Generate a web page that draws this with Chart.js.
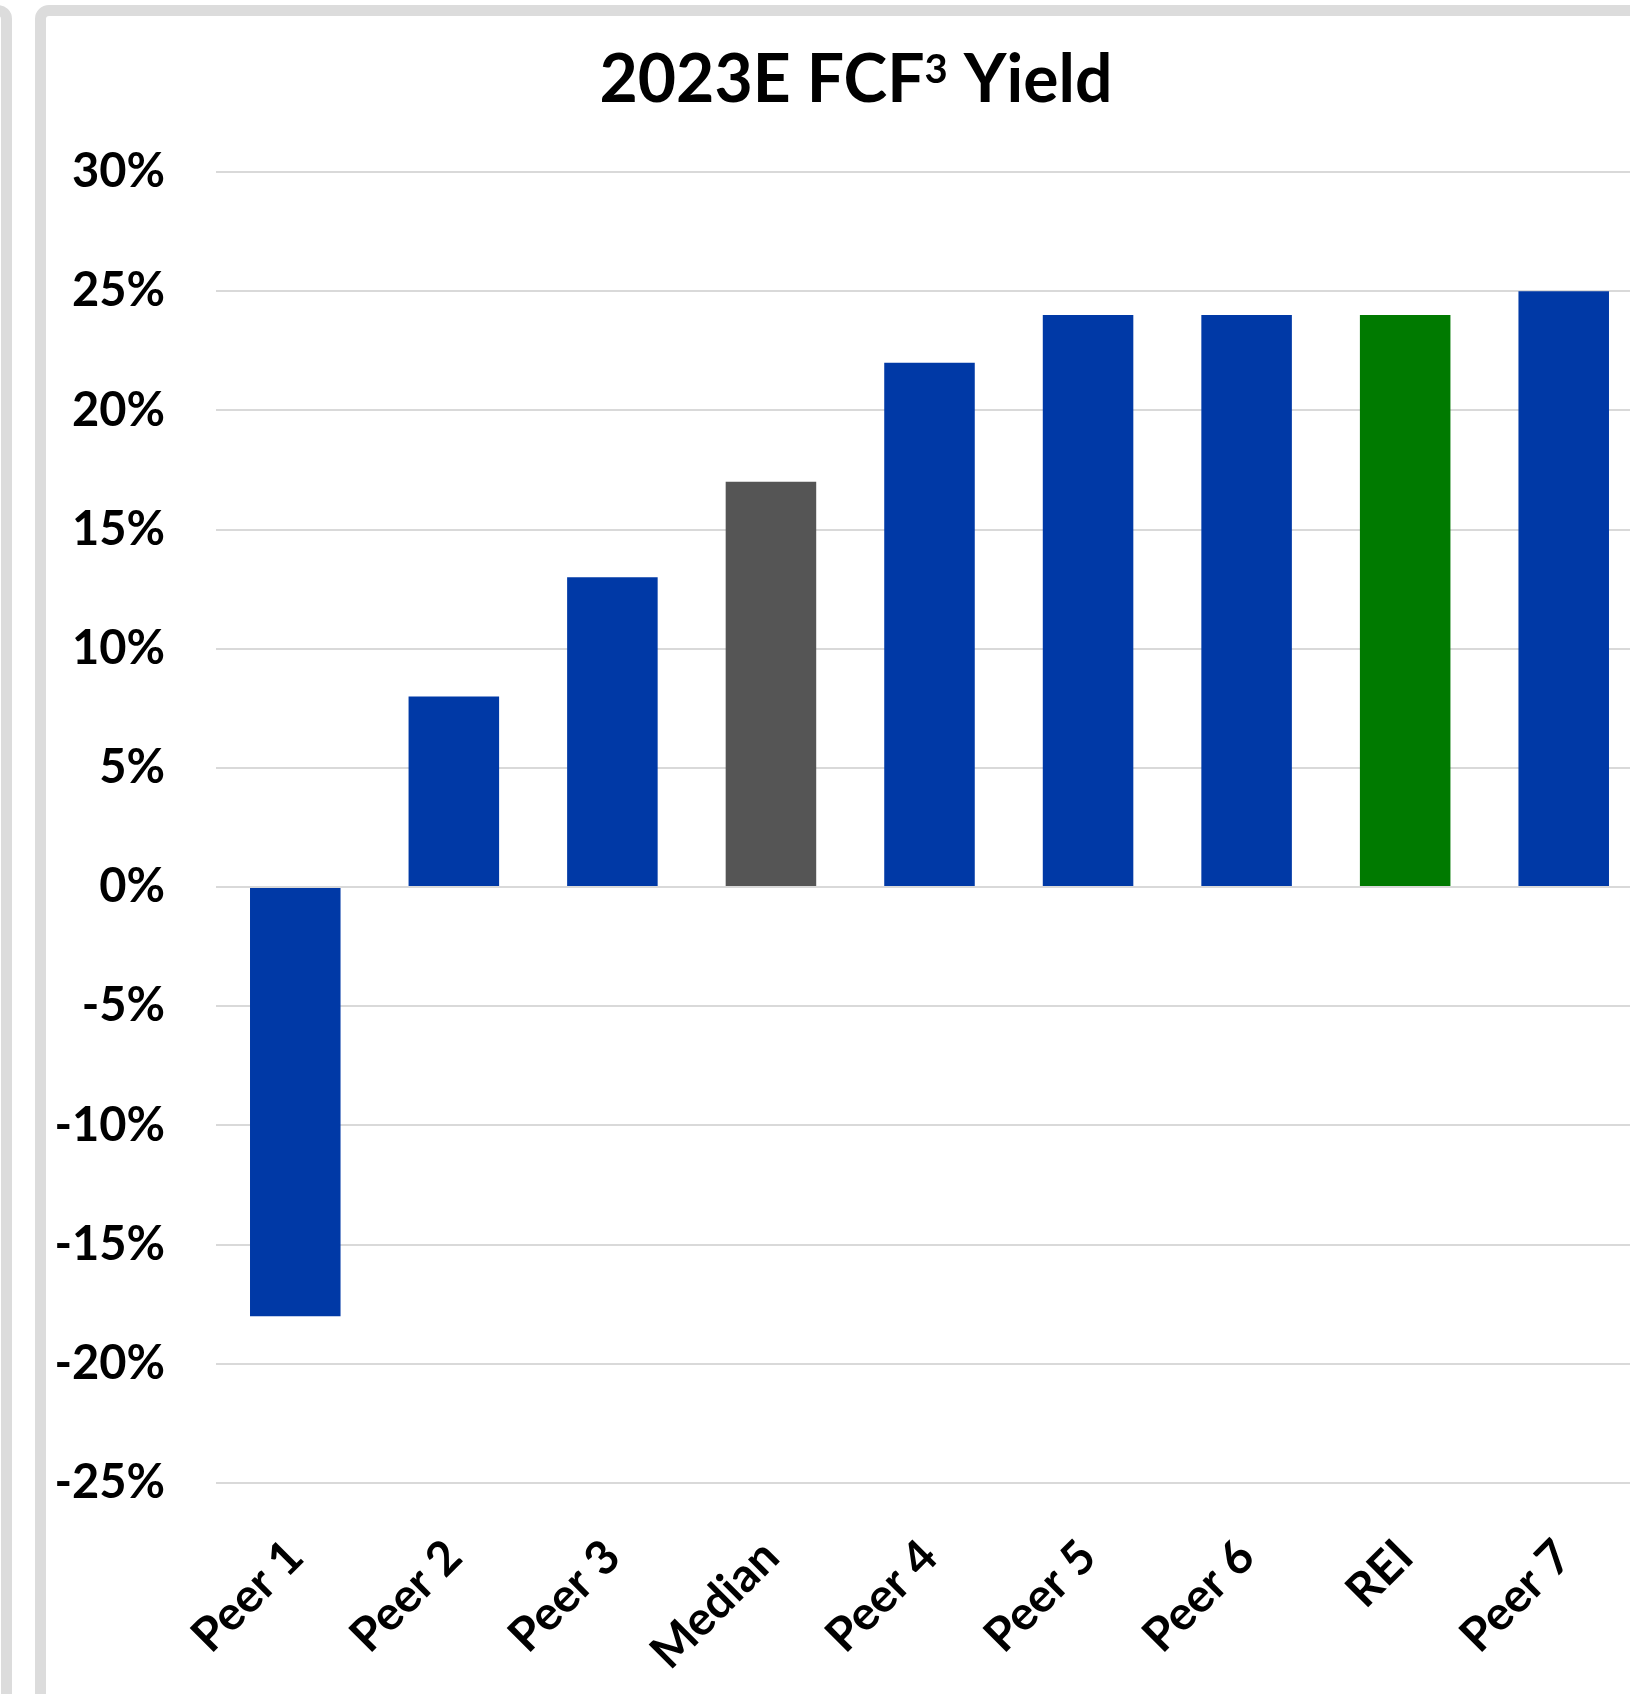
<!DOCTYPE html>
<html>
<head>
<meta charset="utf-8">
<script src="https://cdn.jsdelivr.net/npm/chart.js@4.4.0/dist/chart.umd.min.js"></script>
<style>
  html, body { margin: 0; padding: 0; background: #fff; }
  body { width: 1630px; height: 1694px; overflow: hidden; position: relative; }
  .frame { position: absolute; box-sizing: border-box; border: 11px solid #dcdcdc; border-radius: 14px; background: #fff; }
  #prev { left: -60px; top: 5px; width: 72px; height: 1800px; }
  #card { left: 35px; top: 5px; width: 1700px; height: 1800px; }
  #surat { position: absolute; left: 46px; top: 16px; }
</style>
</head>
<body>
<div class="frame" id="prev"></div>
<div class="frame" id="card"></div>
<canvas id="surat" width="1620" height="1678"></canvas>
<script>
// categories and values (in %)
const categories = ["Peer 1", "Peer 2", "Peer 3", "Median", "Peer 4", "Peer 5", "Peer 6", "REI", "Peer 7"];
const yieldValues = [-18, 8, 13, 17, 22, 24, 24, 24, 25];
const yTicks = [-25, -20, -15, -10, -5, 0, 5, 10, 15, 20, 25, 30];

const font = "Lato";

// title with a real superscript "3"
const titlePlugin = {
    id: "supTitle",
    afterDraw(chart) {
        const ctx = chart.ctx;
        const parts = [
            { text: "2023E FCF", size: 66, rise: 0 },
            { text: "3", size: 40, rise: 19 },
            { text: " Yield", size: 66, rise: 0 },
        ];
        ctx.save();
        ctx.fillStyle = "#000";
        ctx.textBaseline = "alphabetic";
        ctx.textAlign = "left";
        let total = 0;
        parts.forEach((p) => {
            ctx.font = "bold " + p.size + "px " + font;
            p.w = ctx.measureText(p.text).width;
            total += p.w;
        });
        let x = 810 - total / 2;
        const baseline = 86;
        parts.forEach((p) => {
            ctx.font = "bold " + p.size + "px " + font;
            ctx.fillText(p.text, x, baseline - p.rise);
            x += p.w;
        });
        ctx.restore();
    },
};

new Chart(document.getElementById("surat"), {
    type: "bar",
    data: {
        labels: categories,
        datasets: [
            {
                label: "2023E FCF Yield",
                data: yieldValues,
                backgroundColor: categories.map((c) =>
                    c === "Median" ? "#555555" : c === "REI" ? "#007a00" : "#0039a6"
                ),
                categoryPercentage: 1,
                barPercentage: 0.571,
            },
        ],
    },
    plugins: [titlePlugin],
    options: {
        responsive: false,
        animation: false,
        layout: { padding: { top: 156, right: 23, left: 0, bottom: 0 } },
        plugins: {
            legend: { display: false },
            tooltip: { enabled: false },
            title: { display: false },
        },
        scales: {
            x: {
                grid: { display: false },
                border: { display: false },
                afterFit: (scale) => { scale.height = 211; },
                ticks: {
                    color: "#000",
                    font: { family: font, size: 47, weight: "bold" },
                    minRotation: 45,
                    maxRotation: 45,
                    padding: 38,
                },
            },
            y: {
                min: -25,
                max: 30,
                afterFit: (scale) => { scale.width = 170; },
                afterBuildTicks: (scale) => { scale.ticks = yTicks.map((v) => ({ value: v })); },
                grid: { color: "#d9d9d9", lineWidth: 2, drawTicks: false },
                border: { display: false },
                ticks: {
                    color: "#000",
                    font: { family: font, size: 47, weight: "bold" },
                    padding: 51,
                    callback: (v) => v + "%",
                },
            },
        },
    },
});
</script>
</body>
</html>
